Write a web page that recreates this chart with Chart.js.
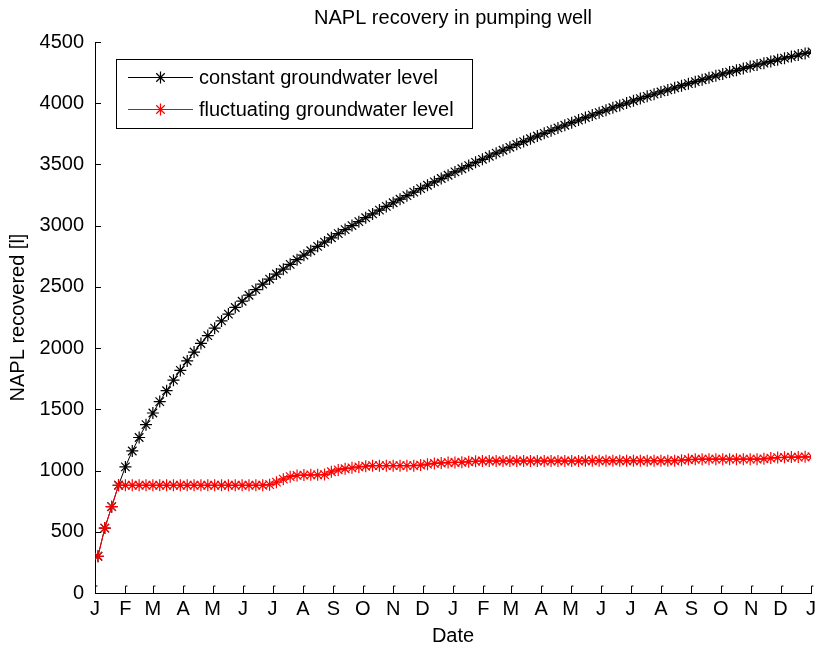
<!DOCTYPE html>
<html>
<head>
<meta charset="utf-8">
<title>NAPL recovery in pumping well</title>
<script src="https://cdn.jsdelivr.net/npm/chart.js@4/dist/chart.umd.min.js"></script>
<style>
    html, body { margin: 0; padding: 0; background: #fff; }
    #wrap { width: 820px; height: 652px; }
</style>
</head>
<body>
<div id="wrap"><canvas id="naplChart" width="820" height="652"></canvas></div>
<script>
/* NAPL recovery – weekly samples over two years */

const FONT = '"Liberation Sans", Arial, Helvetica, sans-serif';

// month axis (day of the two-year period where each month starts)
const monthStarts = [0, 31, 59, 90, 120, 151, 181, 212, 243, 273, 304, 334,
    365, 396, 424, 455, 485, 516, 546, 577, 608, 638, 669, 699, 730];
const monthLabels = ['J', 'F', 'M', 'A', 'M', 'J', 'J', 'A', 'S', 'O', 'N', 'D',
    'J', 'F', 'M', 'A', 'M', 'J', 'J', 'A', 'S', 'O', 'N', 'D', 'J'];

// sampling: one value per week
const firstDay = 3;
const stepDays = 7;

const constantLevel = [
    300, 530, 705, 880, 1030, 1160, 1270, 1375, 1470, 1563,
    1652, 1738, 1818, 1895, 1968, 2038, 2102, 2163, 2222, 2278,
    2332, 2383, 2432, 2478, 2522,
    2564, 2605, 2645, 2684, 2722, 2759, 2795, 2831, 2866, 2901,
    2935, 2968, 3001, 3033, 3065, 3096, 3127, 3157, 3187, 3216,
    3245, 3274, 3302, 3330, 3358, 3385, 3412, 3439, 3465, 3491,
    3517, 3542, 3567, 3592, 3616, 3640, 3664, 3687, 3710, 3732,
    3754, 3776, 3798, 3820, 3841, 3862, 3883, 3903, 3923, 3943,
    3963, 3982, 4001, 4020, 4038, 4056, 4074, 4092, 4109, 4126,
    4143, 4160, 4176, 4192, 4208, 4224, 4239, 4254, 4269, 4284,
    4299, 4313, 4327, 4341, 4355, 4368, 4381, 4394, 4407, 4420
];

const fluctuatingLevel = [
    300, 530, 705, 880,
    880, 880, 880, 880, 880, 880, 880, 880, 880, 880, 880,
    880, 880, 880, 880, 880, 880, 880, 880, 880, 880,
    885, 905, 930, 950, 960, 963, 965, 965, 967,
    990, 1005, 1015, 1022, 1030, 1035,
    1040, 1040, 1040, 1040, 1040, 1040, 1040,
    1045, 1052, 1058, 1062, 1065, 1066, 1068, 1072, 1076, 1078,
    1078, 1078, 1078, 1078, 1078, 1078, 1078, 1078, 1078, 1078, 1078, 1078, 1078, 1078,
    1080, 1080, 1080, 1080, 1080, 1080, 1080, 1080, 1080, 1080, 1080, 1080, 1080, 1080,
    1085, 1090, 1092,
    1093, 1093, 1093, 1093, 1093, 1093, 1093, 1093, 1093,
    1096, 1102, 1106, 1108, 1110, 1110, 1112, 1112
];

const seriesNames = ['constant groundwater level', 'fluctuating groundwater level'];
const yTicks = [0, 500, 1000, 1500, 2000, 2500, 3000, 3500, 4000, 4500];

function toPoints(values) {
    return values.map((v, i) => ({ x: firstDay + i * stepDays, y: v }));
}

// MATLAB-like inward ticks
const inwardTicks = {
    id: 'inwardTicks',
    afterDatasetsDraw(chart) {
        const { ctx, chartArea: a, scales: { x, y } } = chart;
        ctx.save();
        ctx.strokeStyle = '#000';
        ctx.lineWidth = 1;
        ctx.beginPath();
        yTicks.forEach(v => {
            const py = Math.round(y.getPixelForValue(v)) + 0.5;
            ctx.moveTo(a.left, py);
            ctx.lineTo(a.left + 6, py);
        });
        monthStarts.forEach(v => {
            const px = Math.round(x.getPixelForValue(v)) + 0.5;
            ctx.moveTo(px, a.bottom);
            ctx.lineTo(px, a.bottom - 7);
            ctx.lineTo(px + 2, a.bottom - 7);
        });
        ctx.stroke();
        ctx.restore();
    }
};

// boxed legend inside the plot, top left
const boxLegend = {
    id: 'boxLegend',
    afterDraw(chart) {
        const { ctx } = chart;
        const left = 116, top = 59, w = 356, h = 69;
        ctx.save();
        ctx.fillStyle = '#fff';
        ctx.fillRect(left, top, w, h);
        ctx.strokeStyle = '#000';
        ctx.lineWidth = 1;
        ctx.strokeRect(left + 0.5, top + 0.5, w, h);
        chart.data.datasets.forEach((ds, i) => {
            const cy = Math.round(top + 18 + i * 32) + 0.5;
            ctx.strokeStyle = ds.borderColor;
            ctx.lineWidth = 1;
            ctx.beginPath();
            ctx.moveTo(128, cy);
            ctx.lineTo(193, cy);
            ctx.stroke();
            // asterisk marker
            const cx = 160.5, r = 6;
            ctx.lineWidth = 1.2;
            ctx.beginPath();
            ctx.moveTo(cx - r, cy); ctx.lineTo(cx + r, cy);
            ctx.moveTo(cx, cy - r); ctx.lineTo(cx, cy + r);
            const d = r * 0.7071;
            ctx.moveTo(cx - d, cy - d); ctx.lineTo(cx + d, cy + d);
            ctx.moveTo(cx - d, cy + d); ctx.lineTo(cx + d, cy - d);
            ctx.stroke();
            ctx.fillStyle = '#000';
            ctx.font = '20px ' + FONT;
            ctx.textBaseline = 'middle';
            ctx.fillText(ds.label, 199, cy + 1);
        });
        ctx.restore();
    }
};

const chart = new Chart(document.getElementById('naplChart'), {
    type: 'line',
    data: {
        datasets: [
            {
                label: seriesNames[0],
                data: toPoints(constantLevel),
                borderColor: '#000000',
                backgroundColor: '#000000',
                borderWidth: 1,
                pointStyle: 'star',
                pointRadius: 6,
                pointBorderWidth: 1.2,
                order: 1,
            },
            {
                label: seriesNames[1],
                data: toPoints(fluctuatingLevel),
                borderColor: '#ff0000',
                backgroundColor: '#ff0000',
                borderWidth: 1,
                pointStyle: 'star',
                pointRadius: 6,
                pointBorderWidth: 1.2,
                order: 0,
            }
        ]
    },
    options: {
        responsive: false,
        devicePixelRatio: 1,
        animation: false,
        layout: { padding: { left: 0, right: 5, top: 0, bottom: 0 } },
        plugins: {
            legend: { display: false },
            tooltip: { enabled: false },
            title: {
                display: true,
                fullSize: false,
                text: 'NAPL recovery in pumping well',
                color: '#000',
                font: { family: FONT, size: 20, weight: 'normal', lineHeight: 1.2 },
                padding: { top: 6, bottom: 12 }
            }
        },
        scales: {
            x: {
                type: 'linear',
                min: 0,
                max: 730,
                grid: { display: false, drawTicks: false },
                border: { display: true, color: '#000', width: 1 },
                afterBuildTicks: scale => { scale.ticks = monthStarts.map(v => ({ value: v })); },
                afterFit: scale => { scale.height = 59; },
                ticks: {
                    autoSkip: false,
                    maxRotation: 0,
                    padding: 4,
                    color: '#000',
                    font: { family: FONT, size: 20 },
                    callback: (v, i) => monthLabels[i]
                },
                title: {
                    display: true,
                    text: 'Date',
                    color: '#000',
                    font: { family: FONT, size: 20 },
                    padding: { top: 0, bottom: 4 }
                }
            },
            y: {
                min: 0,
                max: 4500,
                grid: { display: false, drawTicks: false },
                border: { display: true, color: '#000', width: 1 },
                afterBuildTicks: scale => { scale.ticks = yTicks.map(v => ({ value: v })); },
                afterFit: scale => { scale.width = 95; },
                ticks: {
                    padding: 11,
                    color: '#000',
                    font: { family: FONT, size: 20 },
                    callback: v => String(v)
                },
                title: {
                    display: true,
                    text: 'NAPL recovered [l]',
                    color: '#000',
                    font: { family: FONT, size: 20 },
                    padding: { top: 6, bottom: 0 }
                }
            }
        }
    },
    plugins: [inwardTicks, boxLegend]
});
</script>
</body>
</html>
